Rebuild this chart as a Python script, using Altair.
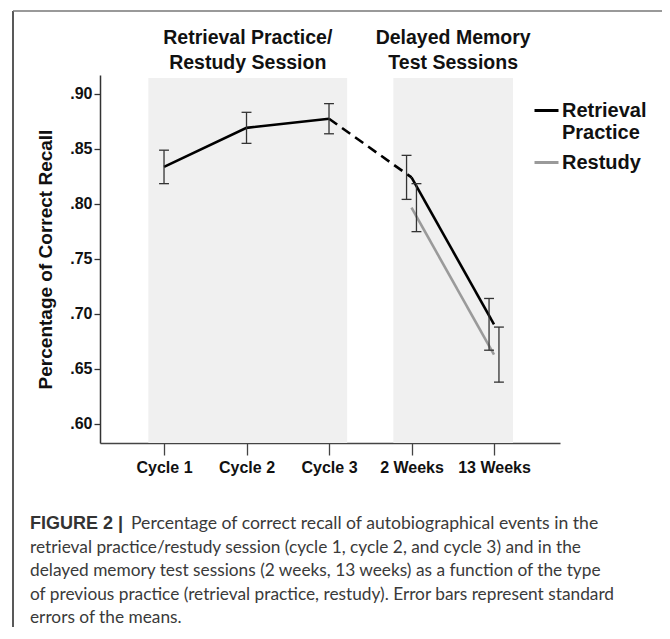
import json
import altair as alt
import pandas as pd

# ---------------- data ----------------
categories = ["Cycle 1", "Cycle 2", "Cycle 3", "2 Weeks", "13 Weeks"]
series_names = ["Retrieval Practice", "Restudy"]
rp_mean = [0.8335, 0.8690, 0.8773, 0.8240, 0.6905]
rp_se = [0.0152, 0.0141, 0.0137, 0.0200, 0.0235]
rs_mean = [None, None, None, 0.7965, 0.6630]
rs_se = [None, None, None, 0.0218, 0.0250]
session_line1 = ["Retrieval Practice/", "Delayed Memory"]
session_line2 = ["Restudy Session", "Test Sessions"]
session_start = [-0.19, 2.78]
session_end = [2.22, 4.23]
y_ticks = [0.60, 0.65, 0.70, 0.75, 0.80, 0.85, 0.90]
caption_lead = "FIGURE 2 |"
caption_lines = [
    "Percentage of correct recall of autobiographical events in the",
    "retrieval practice/restudy session (cycle 1, cycle 2, and cycle 3) and in the",
    "delayed memory test sessions (2 weeks, 13 weeks) as a function of the type",
    "of previous practice (retrieval practice, restudy). Error bars represent standard",
    "errors of the means.",
]

# ---------------- tables ----------------
pts = []
for i, c in enumerate(categories):
    pts.append(dict(idx=i, cat=c, series=series_names[0], mean=rp_mean[i], se=rp_se[i],
                    dodge=(-1 if i >= 3 else 0)))
    if rs_mean[i] is not None:
        pts.append(dict(idx=i, cat=c, series=series_names[1], mean=rs_mean[i], se=rs_se[i], dodge=1))
pts = pd.DataFrame(pts)

solid_rows = []
for i in range(5):
    seg = "cycles" if i <= 2 else "delayed"
    solid_rows.append(dict(idx=i, series=series_names[0], mean=rp_mean[i], seg=seg))
for i in range(5):
    if rs_mean[i] is not None:
        solid_rows.append(dict(idx=i, series=series_names[1], mean=rs_mean[i], seg="restudy"))
solid_df = pd.DataFrame(solid_rows)
dash_df = pd.DataFrame([dict(idx=i, mean=rp_mean[i]) for i in (2, 3)])

sessions = pd.DataFrame(dict(start=session_start, end=session_end,
                             line1=session_line1, line2=session_line2))

W, H = 460, 368
FONT = "Liberation Sans"
CAPFONT = "Lato"
x_scale = alt.Scale(domain=[-0.776, 4.8], nice=False, zero=False)
y_scale = alt.Scale(domain=[0.5827, 0.917], nice=False, zero=False)

label_expr = json.dumps(categories) + "[datum.value]"
x_axis = alt.Axis(values=list(range(len(categories))), labelExpr=label_expr, title=None, grid=False,
                  domainColor="#444", domainWidth=1.5, tickColor="#444", tickWidth=1.3, tickSize=12,
                  labelFont=FONT, labelFontSize=16, labelFontWeight="bold", labelColor="#111",
                  labelPadding=4)
y_axis = alt.Axis(values=y_ticks, labelExpr="replace(format(datum.value, '.2f'), '0.', '.')",
                  title="Percentage of Correct Recall", titleFont=FONT, titleFontSize=19,
                  titleFontWeight="bold", titleColor="#111", titlePadding=14, grid=False,
                  domainColor="#333", domainWidth=1.5, tickColor="#333", tickWidth=1.3, tickSize=6,
                  labelFont=FONT, labelFontSize=16, labelFontWeight="bold", labelColor="#111",
                  labelPadding=2)

X = lambda f: alt.X(f, scale=x_scale, axis=x_axis)
Y = lambda f: alt.Y(f, scale=y_scale, axis=y_axis)

shade = alt.Chart(sessions).mark_rect(color="#f0f0f0").encode(
    x=X("start:Q"), x2="end:Q", y=alt.value(3), y2=alt.value(H))

shade_mid = alt.Chart(sessions).transform_calculate(mid="(datum.start + datum.end) / 2")
t1 = shade_mid.mark_text(font=FONT, fontSize=19.5, fontWeight="bold", color="#111").encode(
    x=X("mid:Q"), y=alt.value(-37), text="line1:N")
t2 = shade_mid.mark_text(font=FONT, fontSize=19.5, fontWeight="bold", color="#111").encode(
    x=X("mid:Q"), y=alt.value(-12), text="line2:N")

color = alt.Color("series:N", scale=alt.Scale(domain=series_names, range=["#000000", "#9a9a9a"]),
                  legend=alt.Legend(orient="none", legendX=433, legendY=22, title=None, padding=0,
                                    symbolType="stroke", symbolSize=576, symbolStrokeWidth=3,
                                    labelFont=FONT, labelFontSize=20, labelFontWeight="bold",
                                    labelColor="#111", labelOffset=2, rowPadding=6,
                                    labelExpr="split(datum.label, ' ')"))

lines = alt.Chart(solid_df).mark_line(strokeWidth=2.6).encode(
    x=X("idx:Q"), y=Y("mean:Q"), color=color, detail="seg:N")
dashed = alt.Chart(dash_df).mark_line(strokeWidth=2.6, strokeDash=[10, 6]).encode(
    x=X("idx:Q"), y=Y("mean:Q"), color=alt.value("#000000"))

eb = alt.Chart(pts).transform_calculate(
    xp="datum.idx + datum.dodge * 0.06",
    lo="datum.mean - datum.se", hi="datum.mean + datum.se",
    cl="datum.idx + datum.dodge * 0.06 - 0.06", cr="datum.idx + datum.dodge * 0.06 + 0.06")
bars = eb.mark_rule(color="#333", strokeWidth=1.3).encode(x=X("xp:Q"), y=Y("lo:Q"), y2="hi:Q")
cap_lo = eb.mark_rule(color="#333", strokeWidth=1.3).encode(x=X("cl:Q"), x2="cr:Q", y=Y("lo:Q"))
cap_hi = eb.mark_rule(color="#333", strokeWidth=1.3).encode(x=X("cl:Q"), x2="cr:Q", y=Y("hi:Q"))

one = alt.Chart(pd.DataFrame({"a": [0]}))
frame_left = one.mark_rule(color="#222", strokeWidth=1.5).encode(
    x=alt.value(-87), y=alt.value(-64), y2=alt.value(H + 300))
frame_top = one.mark_rule(color="#777", strokeWidth=1.5).encode(
    x=alt.value(-87), x2=alt.value(W + 200), y=alt.value(-64))

cap_df = pd.DataFrame({"lead": [caption_lead], "first": [caption_lines[0]],
                       "rest": ["\n".join(caption_lines[1:])]})
capc = alt.Chart(cap_df)
cap1 = capc.mark_text(font=FONT, fontSize=18, fontWeight="bold", color="#333", align="left",
                      baseline="middle").encode(x=alt.value(-70), y=alt.value(449), text="lead:N")
cap2 = capc.mark_text(font=CAPFONT, fontSize=17.6, color="#3a3a3a", align="left",
                      baseline="middle").encode(x=alt.value(31), y=alt.value(449), text="first:N")
cap3 = capc.mark_text(font=CAPFONT, fontSize=17.3, color="#3a3a3a", align="left",
                      baseline="middle", lineBreak="\n", lineHeight=23.5).encode(
    x=alt.value(-70), y=alt.value(472.5), text="rest:N")

chart = alt.layer(shade, t1, t2, lines, dashed, bars, cap_lo, cap_hi,
                  frame_left, frame_top, cap1, cap2, cap3).properties(
    width=W, height=H, autosize=alt.AutoSizeParams(type="none"),
    padding={"left": 92, "top": 67, "right": 102, "bottom": 184},
).configure_view(stroke=None)

chart.save("out.html", embed_options={"renderer": "svg", "actions": False})
